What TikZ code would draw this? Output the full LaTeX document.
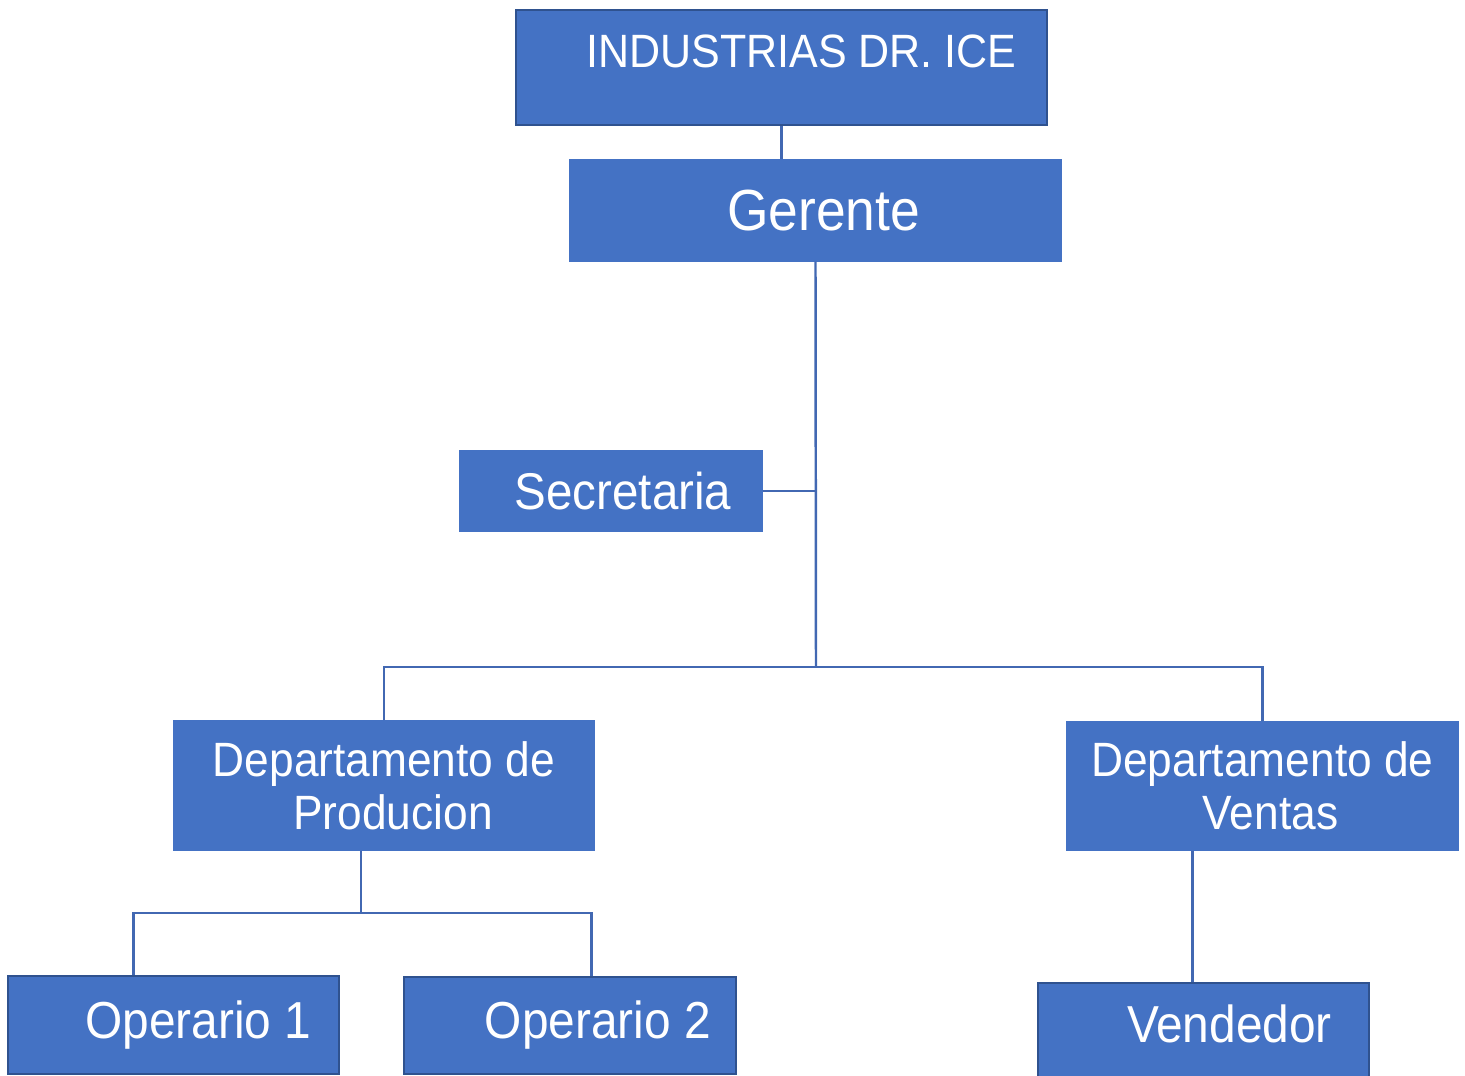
\documentclass[tikz,border=0pt]{standalone}
\usepackage{fontspec}
\setmainfont[FakeStretch=0.92]{Liberation Sans}
\usepackage{xcolor}
\usepackage{tikz}
\usetikzlibrary{calc}

\definecolor{boxblue}{HTML}{4472C4}
\definecolor{edgeblue}{HTML}{2F528F}
\definecolor{lineblue}{RGB}{66,104,178}

\begin{document}
\begin{tikzpicture}[
    box/.style={rectangle, draw=boxblue, fill=boxblue, text=white, inner sep=0pt, line width=0.4pt},
    darkbox/.style={box, draw=edgeblue, line width=0.8pt},
    conn/.style={draw=lineblue, line width=0.7pt}
  ]
    \useasboundingbox (0,0) rectangle (14.65,-10.76);
    \node[darkbox, minimum width=5.31cm, minimum height=1.15cm, text height=0.33cm, text depth=0.33cm, font=\fontsize{13.3}{15}\selectfont] (ind) at (7.815,-0.675) {\hspace*{0.4cm}INDUSTRIAS DR. ICE};
    \node[box, minimum width=4.91cm, minimum height=1.01cm, font=\fontsize{16.5}{18}\selectfont] (ger) at (8.155,-2.105) {\hspace*{0.16cm}Gerente};
    \node[box, minimum width=3.02cm, minimum height=0.80cm, font=\fontsize{14.7}{16}\selectfont] (sec) at (6.11,-4.91) {\hspace*{0.24cm}Secretaria};
    \node[box, minimum width=4.20cm, minimum height=1.29cm, align=center, font=\fontsize{13.7}{15}\selectfont] (prod) at (3.84,-7.855) {Departamento de\\\hspace*{0.18cm}Producion};
    \node[box, minimum width=3.91cm, minimum height=1.28cm, align=center, font=\fontsize{13.7}{15}\selectfont] (ven) at (12.625,-7.86) {Departamento de\\\hspace*{0.16cm}Ventas};
    \node[darkbox, minimum width=3.31cm, minimum height=0.98cm, font=\fontsize{14.8}{16}\selectfont] (op1) at (1.735,-10.25) {\hspace*{0.5cm}Operario 1};
    \node[darkbox, minimum width=3.32cm, minimum height=0.97cm, font=\fontsize{14.8}{16}\selectfont] (op2) at (5.70,-10.255) {\hspace*{0.56cm}Operario 2};
    \node[darkbox, minimum width=3.31cm, minimum height=1.02cm, text height=0.36cm, text depth=0.2cm, font=\fontsize{14.8}{16}\selectfont] (vend) at (12.035,-10.34) {\hspace*{0.52cm}Vendedor};

    % junctions
    \coordinate (hub) at (8.16,-6.67);
    \coordinate (pj) at (3.61,-9.13);
    \coordinate (vj) at ([xshift=1.26cm]ven.south west);

    \draw[conn] (ind.south) -- (ind.south |- ger.north);
    \draw[conn] (ger.south) -- (hub);
    \draw[conn] (sec.east) -- (sec.east -| hub);
    \draw[conn] (prod.north) |- (hub) -| (ven.north);
    \draw[conn] (pj |- prod.south) -- (pj);
    \draw[conn] ([xshift=1.27cm]op1.north west) |- (pj) -| ([xshift=1.89cm]op2.north west);
    \draw[conn] (vj) -- (vj |- vend.north);
\end{tikzpicture}
\end{document}
